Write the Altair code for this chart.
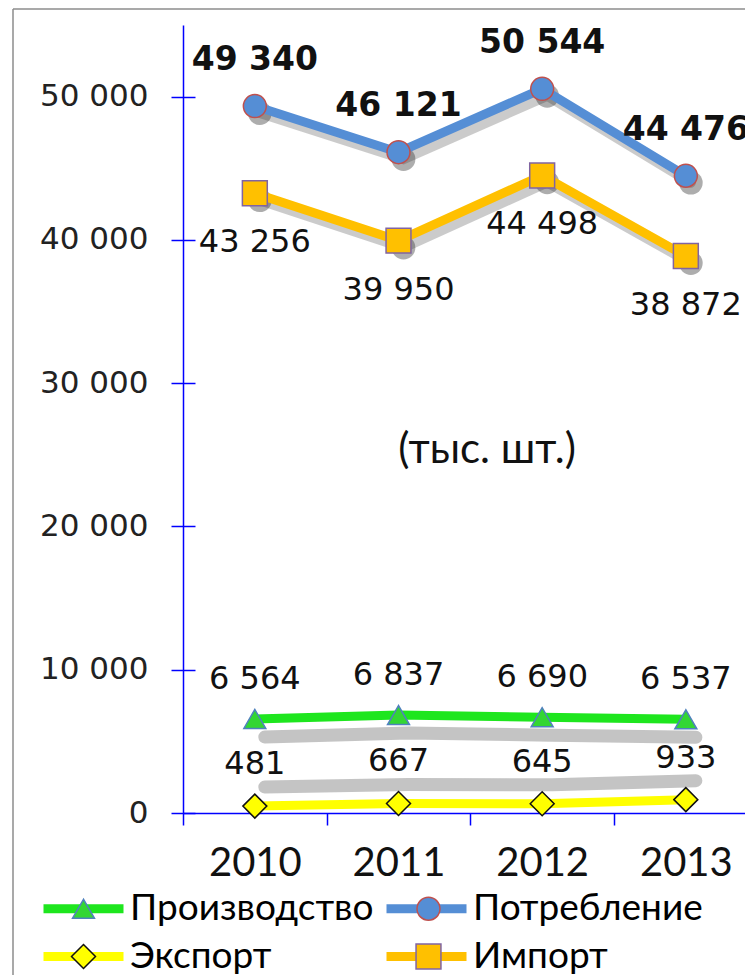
import altair as alt
import pandas as pd

# ---- data -----------------------------------------------------------------
years = [2010, 2011, 2012, 2013]
series = ["Производство", "Потребление", "Экспорт", "Импорт"]
production = [6564, 6837, 6690, 6537]
consumption = [49340, 46121, 50544, 44476]
export = [481, 667, 645, 933]
imports = [43256, 39950, 44498, 38872]
y_ticks = [0, 10000, 20000, 30000, 40000, 50000]
unit_label = "(тыс. шт.)"

# ---- styles ---------------------------------------------------------------
line_colors = ["#1EE61E", "#558ED5", "#FFFF00", "#FFC000"]
marker_fill = ["#33D633", "#558ED5", "#FFFF00", "#FFC000"]
marker_stroke = ["#4F81BD", "#C0504D", "#111111", "#8064A2"]
marker_shape = ["triangle-up", "circle", "diamond", "square"]
marker_size = [480, 620, 380, 500]

W, H = 562, 788
PX_PER_YEAR = 143.67
X_MAX = 2009.5 + W / PX_PER_YEAR

values = {"Производство": production, "Потребление": consumption,
          "Экспорт": export, "Импорт": imports}
rows = []
for s in series:
    for yr, v in zip(years, values[s]):
        rows.append({"year": yr, "value": v, "series": s, "m": s + "\u200b",
                     "label": f"{v:,}".replace(",", " ")})
df = pd.DataFrame(rows)
base = alt.Chart(df)

BLUE = "#0000FF"
x_vals = [2009.5, 2010, 2010.5, 2011, 2011.5, 2012, 2012.5, 2013]
x_enc = alt.X(
    "year:Q",
    scale=alt.Scale(domain=[2009.5, X_MAX], nice=False, zero=False),
    axis=alt.Axis(
        title=None, values=x_vals, grid=False,
        labelExpr="datum.value % 1 === 0 ? format(datum.value, 'd') : ''",
        tickOpacity={"condition": {"test": "datum.value % 1 === 0", "value": 0}, "value": 1},
        domainColor=BLUE, domainWidth=1.5, tickColor=BLUE, tickWidth=1.5, tickSize=12,
        labelFont="Lato", labelFontSize=40, labelFontWeight="normal", labelColor="#111111",
        labelPadding=18, labelOverlap=False, labelFlush=False,
    ),
)
y_enc = alt.Y(
    "value:Q",
    scale=alt.Scale(domain=[0, 55000], nice=False),
    axis=alt.Axis(
        title=None, values=y_ticks,
        labelExpr="replace(format(datum.value, ','), ',', ' ')",
        domainColor=BLUE, domainWidth=1.5, tickColor=BLUE, tickWidth=1.5, tickSize=12,
        grid=True, gridColor=BLUE, gridWidth=1.5, gridDash=[12, 4000],
        labelFont="DejaVu Sans", labelFontSize=31, labelColor="#222222",
        labelPadding=23,
    ),
)

big = "datum.series == 'Потребление' || datum.series == 'Импорт'"

shadow_big = base.transform_filter(big).mark_line(
    color="#444444", opacity=0.28, strokeWidth=10, xOffset=5, yOffset=7, strokeCap="round"
).encode(x=x_enc, y=y_enc, detail="series:N")
shadow_big_pts = base.transform_filter(big).mark_point(
    filled=True, color="#333333", opacity=0.4, size=560, shape="circle", xOffset=5, yOffset=7
).encode(x=x_enc, y=y_enc)
shadow_prod = base.transform_filter("datum.series == 'Производство'").mark_line(
    color="#8a8a8a", opacity=0.5, strokeWidth=13, xOffset=10, yOffset=18, strokeCap="round"
).encode(x=x_enc, y=y_enc)
shadow_exp = base.transform_filter("datum.series == 'Экспорт'").mark_line(
    color="#8a8a8a", opacity=0.5, strokeWidth=13, xOffset=10, yOffset=-19, strokeCap="round"
).encode(x=x_enc, y=y_enc)

legend_common = dict(
    orient="none", legendX=-118, legendY=865, columns=2, direction="horizontal",
    title=None, padding=0, rowPadding=10,
    labelFont="Lato", labelFontSize=37, labelColor="#000000", labelOffset=28,
    labelLimit=400,
)

lines = base.mark_line(strokeWidth=9).encode(
    x=x_enc, y=y_enc,
    color=alt.Color("series:N", scale=alt.Scale(domain=series, range=line_colors),
                    legend=alt.Legend(symbolType="M-4,0H4", symbolSize=400,
                                      symbolStrokeWidth=9, columnPadding=-6,
                                      **legend_common)),
)

m_domain = [s + "\u200b" for s in series]
m_legend = alt.Legend(symbolStrokeWidth=1.5, labelExpr="''", symbolOpacity=1,
                      columnPadding=280, **legend_common)
points = base.mark_point(filled=True, opacity=1, strokeWidth=1.5).encode(
    x=x_enc, y=y_enc,
    fill=alt.Fill("m:N", scale=alt.Scale(domain=m_domain, range=marker_fill), legend=m_legend),
    stroke=alt.Stroke("m:N", scale=alt.Scale(domain=m_domain, range=marker_stroke), legend=m_legend),
    shape=alt.Shape("m:N", scale=alt.Scale(domain=m_domain, range=marker_shape), legend=m_legend),
    size=alt.Size("m:N", scale=alt.Scale(domain=m_domain, range=marker_size), legend=m_legend),
)


def labels(name, dy, weight="normal", size=32):
    return base.transform_filter(f"datum.series == '{name}'").mark_text(
        font="DejaVu Sans", fontSize=size, fontWeight=weight, color="#111111", dy=dy
    ).encode(x=x_enc, y=y_enc, text="label:N")


lab_cons = labels("Потребление", -46, "bold", 33)
lab_imp = labels("Импорт", 49)
lab_prod = labels("Производство", -40)
lab_exp = labels("Экспорт", -42)

unit = alt.Chart(pd.DataFrame({"t": [unit_label]})).mark_text(
    font="Lato", fontSize=42, color="#111111"
).encode(x=alt.value(304), y=alt.value(425), text="t:N")

frame_left = alt.Chart(pd.DataFrame({"k": [0]})).mark_rule(color="#8c8c8c", strokeWidth=1.5).encode(
    x=alt.value(-170), y=alt.value(-16), y2=alt.value(H + 180))
frame_top = alt.Chart(pd.DataFrame({"k": [0]})).mark_rule(color="#8c8c8c", strokeWidth=1.5).encode(
    x=alt.value(-170), x2=alt.value(W + 20), y=alt.value(-16))

chart = alt.layer(
    frame_left, frame_top,
    shadow_big, shadow_big_pts, shadow_prod, shadow_exp,
    lines, points,
    lab_cons, lab_imp, lab_prod, lab_exp, unit,
).properties(
    width=W, height=H,
    autosize=alt.AutoSizeParams(type="none"),
    padding={"left": 175, "top": 17, "right": 0, "bottom": 168},
).configure_view(stroke=None)

chart.save("out.html", embed_options={"renderer": "svg", "actions": False})
